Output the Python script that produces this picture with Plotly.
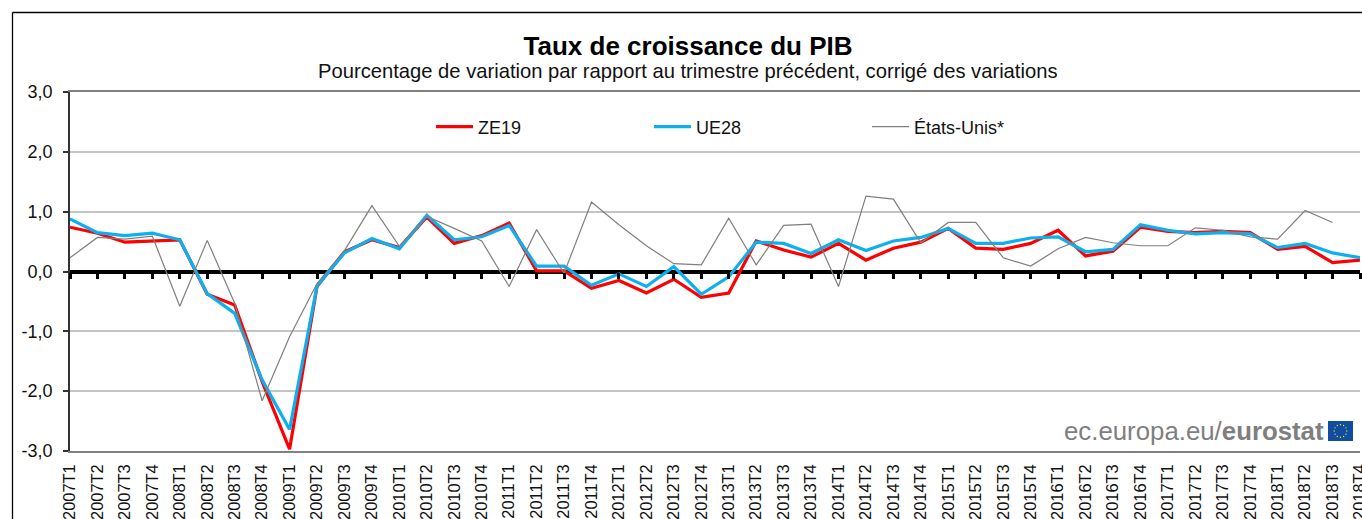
import math
import plotly.graph_objects as go

years = list(range(2007, 2019))
categories = [f"{y}T{q}" for y in years for q in (1, 2, 3, 4)]

ze19 = [0.74, 0.64, 0.49, 0.51, 0.53, -0.38, -0.56, -1.84, -2.97, -0.25, 0.33, 0.53,
        0.40, 0.91, 0.47, 0.60, 0.81, 0.01, 0.01, -0.28, -0.15, -0.36, -0.13, -0.43,
        -0.36, 0.51, 0.36, 0.24, 0.47, 0.19, 0.39, 0.49, 0.72, 0.39, 0.37, 0.47,
        0.69, 0.26, 0.34, 0.74, 0.67, 0.65, 0.67, 0.65, 0.37, 0.42, 0.15, 0.19]
ue28 = [0.88, 0.65, 0.60, 0.64, 0.53, -0.37, -0.70, -1.81, -2.64, -0.24, 0.31, 0.55,
        0.38, 0.94, 0.53, 0.58, 0.77, 0.09, 0.09, -0.23, -0.04, -0.25, 0.08, -0.38,
        -0.09, 0.49, 0.47, 0.30, 0.53, 0.35, 0.51, 0.57, 0.72, 0.47, 0.47, 0.56,
        0.58, 0.33, 0.37, 0.78, 0.69, 0.63, 0.65, 0.63, 0.40, 0.47, 0.31, 0.23]
etats_unis = [0.23, 0.57, 0.54, 0.59, -0.58, 0.52, -0.53, -2.16, -1.09, -0.20, 0.35, 1.10,
              0.42, 0.92, 0.72, 0.51, -0.25, 0.70, -0.03, 1.16, 0.78, 0.43, 0.13, 0.11,
              0.89, 0.11, 0.77, 0.79, -0.25, 1.26, 1.21, 0.48, 0.82, 0.82, 0.23, 0.09,
              0.38, 0.57, 0.48, 0.43, 0.43, 0.73, 0.69, 0.58, 0.54, 1.02, 0.82, None]

y_ticks = [3, 2, 1, 0, -1, -2, -3]
y_labels = ["3,0", "2,0", "1,0", "0,0", "-1,0", "-2,0", "-3,0"]

W, H = 1362, 519
L, R, T, B = 70, 1360, 92, 451
FONT = "Liberation Sans"


def px(x):
    return (x - L) / (R - L)


def py(y):
    return (B - y) / (B - T)


fig = go.Figure()
fig.add_trace(go.Scatter(x=categories, y=ze19, name="ZE19", mode="lines",
                         line=dict(color="#FF0000", width=3.2)))
fig.add_trace(go.Scatter(x=categories, y=ue28, name="UE28", mode="lines",
                         line=dict(color="#0DB0EE", width=3.2)))
fig.add_trace(go.Scatter(x=categories, y=etats_unis, name="États-Unis*", mode="lines",
                         line=dict(color="#7F7F7F", width=1.2)))
# Invisible trace that carries the tick marks on the zero line
fig.add_trace(go.Scatter(x=categories, y=[None] * len(categories), xaxis="x2", mode="lines",
                         showlegend=False, hoverinfo="skip"))

shapes = [
    dict(type="line", xref="paper", yref="paper", x0=px(12.5), x1=px(1370), y0=py(12.5), y1=py(12.5),
         line=dict(color="#000000", width=1.3)),
    dict(type="line", xref="paper", yref="paper", x0=px(12.5), x1=px(12.5), y0=py(12.5), y1=py(530),
         line=dict(color="#000000", width=1.3)),
    dict(type="rect", xref="paper", yref="paper", x0=px(1328), x1=px(1353), y0=py(421), y1=py(441),
         fillcolor="#0F4DA2", line=dict(width=0)),
]
for k in range(12):
    a = 2 * math.pi * k / 12
    cx, cy = 1340.5 + 6.3 * math.cos(a), 431 + 6.3 * math.sin(a)
    shapes.append(dict(type="circle", xref="paper", yref="paper",
                       x0=px(cx - 0.7), x1=px(cx + 0.7), y0=py(cy - 0.7), y1=py(cy + 0.7),
                       fillcolor="#FFE000", line=dict(width=0)))

fig.update_layout(
    width=W, height=H,
    margin=dict(l=L, r=W - R, t=T, b=H - B, autoexpand=False),
    paper_bgcolor="white", plot_bgcolor="white",
    font=dict(family=FONT, color="#111111", size=18),
    hovermode=False,
    title=dict(text="<b>Taux de croissance du PIB</b>", x=688 / W, xanchor="center",
               y=1 - 46 / H, yanchor="middle", font=dict(size=26, color="#000000", family=FONT)),
    annotations=[
        dict(text="Pourcentage de variation par rapport au trimestre précédent, corrigé des variations",
             xref="paper", yref="paper", x=px(688), y=py(71), showarrow=False,
             xanchor="center", yanchor="middle", font=dict(size=20.2, color="#111111")),
        dict(text="ec.europa.eu/<b>eurostat</b>", xref="paper", yref="paper", x=px(1326), y=py(431),
             showarrow=False, xanchor="right", yanchor="middle",
             font=dict(size=25.8, color="#7F7F7F")),
    ],
    shapes=shapes,
    showlegend=True,
    legend=dict(orientation="h", x=px(431), y=py(127), xanchor="left", yanchor="middle",
                bgcolor="rgba(0,0,0,0)", borderwidth=0, font=dict(size=18, color="#111111"),
                itemwidth=37, entrywidth=166, entrywidthmode="pixels", traceorder="normal"),
    xaxis=dict(type="category", categoryorder="array", categoryarray=categories,
               range=[0, len(categories) - 1], tickmode="array", tickvals=categories, ticktext=categories,
               tickangle=-90, ticks="", showgrid=False, zeroline=False,
               showline=True, linecolor="#808080", linewidth=1.5, mirror=True,
               tickfont=dict(size=16.4, color="#111111"), ticklabelstandoff=5, automargin=False),
    xaxis2=dict(type="category", categoryorder="array", categoryarray=categories,
                range=[0, len(categories) - 1], overlaying="x", anchor="free", position=0.5, side="bottom",
                tickmode="array", tickvals=categories, ticktext=[""] * len(categories),
                ticks="outside", ticklen=6, tickwidth=3, tickcolor="#000000",
                showgrid=False, zeroline=False, showline=False, automargin=False),
    yaxis=dict(range=[-3, 3], tickmode="array", tickvals=y_ticks, ticktext=y_labels,
               ticks="outside", ticklen=5, tickwidth=1.5, tickcolor="#333333",
               showgrid=True, gridcolor="#C4C4C4", gridwidth=1.5,
               zeroline=True, zerolinecolor="#000000", zerolinewidth=4,
               showline=True, linecolor="#333333", linewidth=1.5, ticklabelstandoff=7,
               tickfont=dict(size=18, color="#111111"), automargin=False),
)

fig.write_html("out.html", config=dict(displayModeBar=False),
               post_script="document.body.style.margin='0';document.body.style.overflow='hidden';")
